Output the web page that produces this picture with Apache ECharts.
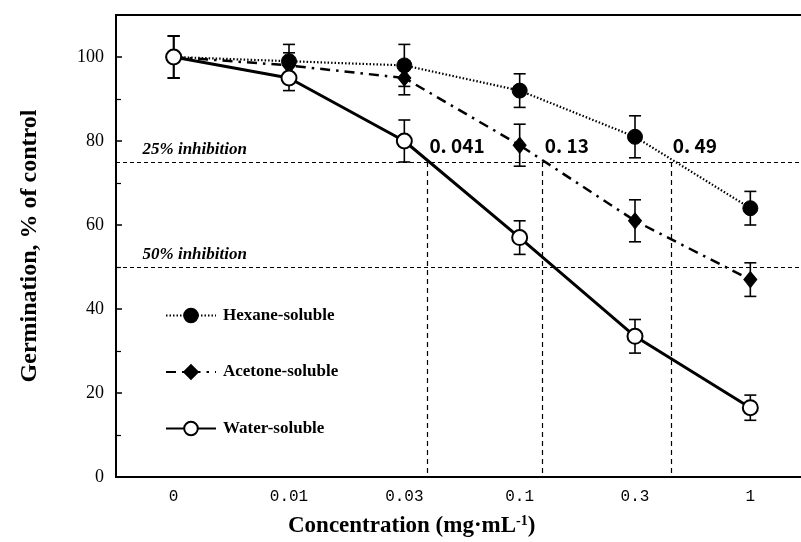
<!DOCTYPE html>
<html>
<head>
<meta charset="utf-8">
<script src="https://cdn.jsdelivr.net/npm/echarts@6/dist/echarts.min.js"></script>
<style>html,body{margin:0;padding:0;background:#fff;overflow:hidden;}#c{width:808px;height:542px;}</style>
</head>
<body>
<div id="c"></div>
<script>
const categories = ['0', '0.01', '0.03', '0.1', '0.3', '1'];
const hexane = [100, 99, 98, 92, 81, 64];
const hexaneErr = [5, 4, 5, 4, 5, 4];
const acetone = [100, 98, 95, 79, 61, 47];
const acetoneErr = [5, 3, 4, 5, 5, 4];
const water = [100, 95, 80, 57, 33.5, 16.5];
const waterErr = [5, 3, 5, 4, 4, 3];
const yTicks = [0, 20, 40, 60, 80, 100];
// IC values: [label, position on the category index scale]
const icLabels = ['0. 041', '0. 13', '0. 49'];
const icPos = [2.2, 3.2, 4.31];
const inhibitionLevels = [75, 50];
const inhibitionLabels = ['25% inhibition', '50% inhibition'];

const chart = echarts.init(document.getElementById('c'), null, {renderer: 'canvas'});

function errData(vals, errs) {
  return vals.map((v, i) => [i, v - errs[i], v + errs[i]]);
}
function errSeries(vals, errs, z) {
  return {
    type: 'custom', xAxisIndex: 0, yAxisIndex: 0, z: z, silent: true,
    data: errData(vals, errs),
    renderItem: function (params, api) {
      const x = api.value(0);
      const lo = api.coord([x, api.value(1)]);
      const hi = api.coord([x, api.value(2)]);
      const w = 6;
      const st = {stroke: '#000', lineWidth: 1.6};
      return {type: 'group', children: [
        {type: 'line', shape: {x1: lo[0], y1: lo[1], x2: hi[0], y2: hi[1]}, style: st},
        {type: 'line', shape: {x1: lo[0] - w, y1: lo[1], x2: lo[0] + w, y2: lo[1]}, style: st},
        {type: 'line', shape: {x1: hi[0] - w, y1: hi[1], x2: hi[0] + w, y2: hi[1]}, style: st}
      ]};
    }
  };
}

const refLines = [];
inhibitionLevels.forEach(v => refLines.push({yAxis: v, lineStyle: {type: [4, 3], width: 1}}));
icPos.forEach(p => refLines.push([{coord: [p, inhibitionLevels[0]], lineStyle: {type: [5, 4], width: 1.2}}, {coord: [p, 0]}]));

const annotData = [];
icPos.forEach((p, i) => annotData.push({value: [p, 78.8], label: {formatter: icLabels[i], color: '#000', fontFamily: 'Noto Sans CJK JP', fontWeight: 'bold', fontSize: 19, position: 'right', distance: 2}}));
inhibitionLevels.forEach((v, i) => annotData.push({value: [-0.27, v + 2.9], label: {formatter: inhibitionLabels[i], color: '#000', fontFamily: 'Liberation Serif', fontStyle: 'italic', fontWeight: 'bold', fontSize: 17, position: 'right', distance: 0}}));

const option = {
  animation: false,
  backgroundColor: '#fff',
  title: {
    left: 283, top: 509,
    text: '{a|Concentration (mg·mL}{s|-1}{a|)}',
    textStyle: {
      rich: {
        a: {fontFamily: 'Liberation Serif', fontWeight: 'bold', fontSize: 23, color: '#000'},
        s: {fontFamily: 'Liberation Serif', fontWeight: 'bold', fontSize: 14, color: '#000', padding: [0, 0, 10, 0]}
      }
    }
  },
  grid: {left: 116, top: 15, bottom: 65, right: 0, show: true, borderColor: '#000', borderWidth: 2, backgroundColor: '#fff'},
  legend: {
    left: 160, top: 302, orient: 'vertical', itemGap: 39.5, itemWidth: 50, itemHeight: 17,
    data: ['Hexane-soluble', 'Acetone-soluble', 'Water-soluble'],
    textStyle: {fontFamily: 'Liberation Serif', fontWeight: 'bold', fontSize: 17, color: '#000', padding: [0, 0, 0, 2]}
  },
  xAxis: [
    {
      type: 'category', data: categories, boundaryGap: true,
      axisLine: {lineStyle: {color: '#000', width: 2}},
      axisTick: {inside: true, alignWithLabel: true, length: 8, lineStyle: {color: '#000', width: 1.5}},
      axisLabel: {color: '#000', fontFamily: 'Liberation Mono', fontSize: 16, margin: 12},
      splitLine: {show: false}
    },
    {type: 'value', min: -0.5, max: 5.5, show: false, splitLine: {show: false}}
  ],
  yAxis: {
    type: 'value', min: 0, max: 110, interval: 20,
    name: 'Germination, % of control', nameLocation: 'middle', nameGap: 74,
    nameTextStyle: {fontFamily: 'Liberation Serif', fontWeight: 'bold', fontSize: 24, color: '#000'},
    axisLine: {show: true, onZero: false, lineStyle: {color: '#000', width: 2}},
    axisTick: {inside: true, length: 6, lineStyle: {color: '#000', width: 1.5}},
    minorTick: {show: true, splitNumber: 2, length: 5, lineStyle: {color: '#000', width: 1.2}},
    axisLabel: {color: '#000', fontFamily: 'Liberation Serif', fontSize: 18, margin: 12,
      formatter: v => (yTicks.indexOf(v) >= 0 ? String(v) : '')},
    splitLine: {show: false}
  },
  series: [
    errSeries(hexane, hexaneErr, 2),
    errSeries(acetone, acetoneErr, 2),
    errSeries(water, waterErr, 2),
    {
      name: 'Hexane-soluble', type: 'line', data: hexane, z: 3,
      symbol: 'circle', symbolSize: 15,
      itemStyle: {color: '#000', borderColor: '#000', borderWidth: 1},
      lineStyle: {color: '#000', width: 2.2, type: [1.5, 2]}
    },
    {
      name: 'Acetone-soluble', type: 'line', data: acetone, z: 4,
      symbol: 'diamond', symbolSize: [13, 16],
      itemStyle: {color: '#000', borderColor: '#000', borderWidth: 1},
      lineStyle: {color: '#000', width: 2.5, type: [10, 6, 2.5, 6]}
    },
    {
      name: 'Water-soluble', type: 'line', data: water, z: 5,
      symbol: 'circle', symbolSize: 15,
      itemStyle: {color: '#fff', borderColor: '#000', borderWidth: 2},
      lineStyle: {color: '#000', width: 3}
    },
    {
      type: 'scatter', xAxisIndex: 1, yAxisIndex: 0, z: 1, silent: true,
      symbolSize: 0, data: annotData,
      itemStyle: {opacity: 1, color: '#000'},
      label: {show: true, color: '#000'},
      markLine: {silent: true, symbol: ['none', 'none'], label: {show: false},
        lineStyle: {color: '#000', opacity: 1}, data: refLines}
    }
  ]
};
chart.setOption(option);
</script>
</body>
</html>
